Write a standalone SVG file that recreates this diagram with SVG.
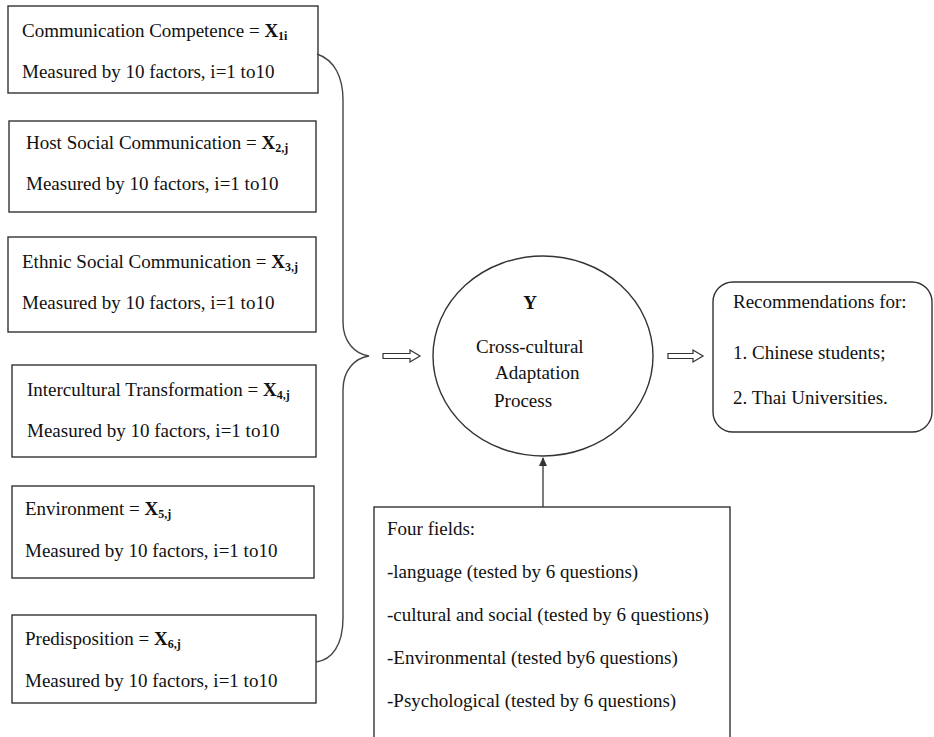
<svg xmlns="http://www.w3.org/2000/svg" width="934" height="737" viewBox="0 0 934 737">
<defs>
<style>
.box{fill:#fff;stroke:#333;stroke-width:1.4}
.t{font-family:"Liberation Serif","Times New Roman",serif;font-size:19px;fill:#111}
.b{font-weight:bold}
.s{font-size:12px;font-weight:bold}
.ln{fill:none;stroke:#444;stroke-width:1.4}
.ha{fill:#fff;stroke:#333;stroke-width:1.2}
</style>
<marker id="ah" markerWidth="10" markerHeight="10" refX="8" refY="5" orient="auto" markerUnits="userSpaceOnUse">
<path d="M0,1 L9,5 L0,9 z" fill="#333"/>
</marker>
</defs>
<rect width="934" height="737" fill="#fff"/>
<g id="n1">
<rect class="box" x="8" y="6" width="310" height="87"/>
<text class="t" x="22" y="37">Communication Competence = <tspan class="b">X</tspan><tspan class="s" dy="3">1i</tspan></text>
<text class="t" x="22" y="78">Measured by 10 factors, i=1 to10</text>
</g>
<g id="n2">
<rect class="box" x="9" y="121" width="307" height="91"/>
<text class="t" x="26" y="149">Host Social Communication = <tspan class="b">X</tspan><tspan class="s" dy="3">2,j</tspan></text>
<text class="t" x="26" y="190">Measured by 10 factors, i=1 to10</text>
</g>
<g id="n3">
<rect class="box" x="8" y="237" width="308" height="95"/>
<text class="t" x="22" y="268">Ethnic Social Communication = <tspan class="b">X</tspan><tspan class="s" dy="3">3,j</tspan></text>
<text class="t" x="22" y="309">Measured by 10 factors, i=1 to10</text>
</g>
<g id="n4">
<rect class="box" x="12" y="365" width="304" height="92"/>
<text class="t" x="27" y="396">Intercultural Transformation = <tspan class="b">X</tspan><tspan class="s" dy="3">4,j</tspan></text>
<text class="t" x="27" y="437">Measured by 10 factors, i=1 to10</text>
</g>
<g id="n5">
<rect class="box" x="12" y="486" width="302" height="92"/>
<text class="t" x="25" y="515">Environment = <tspan class="b">X</tspan><tspan class="s" dy="3">5,j</tspan></text>
<text class="t" x="25" y="557">Measured by 10 factors, i=1 to10</text>
</g>
<g id="n6">
<rect class="box" x="12" y="615" width="304" height="88"/>
<text class="t" x="25" y="645">Predisposition = <tspan class="b">X</tspan><tspan class="s" dy="3">6,j</tspan></text>
<text class="t" x="25" y="687">Measured by 10 factors, i=1 to10</text>
</g>
<g id="y">
<ellipse class="box" cx="543" cy="356" rx="110" ry="100"/>
<text class="t b" x="530" y="309" text-anchor="middle">Y</text>
<text class="t" x="476" y="353">Cross-cultural</text>
<text class="t" x="495" y="379">Adaptation</text>
<text class="t" x="494" y="407">Process</text>
</g>
<g id="rec">
<rect class="box" x="713" y="282" width="219" height="150" rx="20" ry="20"/>
<text class="t" x="733" y="308">Recommendations for:</text>
<text class="t" x="733" y="359">1. Chinese students;</text>
<text class="t" x="733" y="404">2. Thai Universities.</text>
</g>
<g id="fields">
<rect class="box" x="374" y="507" width="356" height="240"/>
<text class="t" x="387" y="535">Four fields:</text>
<text class="t" x="387" y="578">-language (tested by 6 questions)</text>
<text class="t" x="387" y="621">-cultural and social (tested by 6 questions)</text>
<text class="t" x="387" y="664">-Environmental (tested by6 questions)</text>
<text class="t" x="387" y="707">-Psychological (tested by 6 questions)</text>
</g>
<g id="connectors">
<path class="ln" d="M317,54 C335,60 343,78 343,100 L343,322 C343,342 355,354 369,356 C355,358 343,370 343,390 L343,618 C343,645 332,660 316,662"/>
<path class="ha" d="M383,353.5 L410,353.5 L410,350 L420,356 L410,362 L410,358.5 L383,358.5 z"/>
<path class="ha" d="M668,353.5 L693,353.5 L693,350 L703,356 L693,362 L693,358.5 L668,358.5 z"/>
<line class="ln" x1="543" y1="507" x2="543" y2="458" marker-end="url(#ah)"/>
</g>
</svg>
